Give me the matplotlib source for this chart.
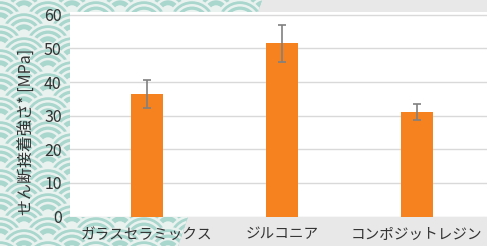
import matplotlib
matplotlib.use("Agg")
import matplotlib.pyplot as plt
import matplotlib.transforms as mtransforms
from matplotlib.patches import Circle, Polygon

plt.rcParams['font.family'] = ['Noto Sans CJK JP', 'DejaVu Sans']

categories = ["ガラスセラミックス", "ジルコニア", "コンポジットレジン"]
values = [36.5, 51.5, 31.2]
errors = [4.25, 5.4, 2.4]
yticks = [0, 10, 20, 30, 40, 50, 60]
ylabel = "せん断接着強さ* [MPa]"

W, H = 487, 246
fig = plt.figure(figsize=(W / 100, H / 100), dpi=100)

# background with seigaiha wave pattern
bg = fig.add_axes([0, 0, 1, 1], zorder=0)
bg.set_xlim(0, W)
bg.set_ylim(H, 0)
bg.axis("off")
bg.add_patch(plt.Rectangle((0, 0), W, H, color="#e8e8e8", zorder=0))
clip = Polygon([(0, 0), (262, 0), (178, H), (0, H)], closed=True,
               facecolor="none", edgecolor="none", transform=bg.transData)
bg.add_patch(clip)
teal = "#a9d6cd"
line = "#eaf2ef"
R = 24
lw = 1.8
j = 0
y = -R
while y < H + R:
    off = R if j % 2 else 0
    x = -2 * R + off
    while x < W + 2 * R:
        parts = [Circle((x, y), R, facecolor=teal, edgecolor=line, lw=lw)]
        for f in (0.78, 0.54):
            parts.append(Circle((x, y), R * f, facecolor="none", edgecolor=line, lw=lw))
        parts.append(Circle((x, y), R * 0.28, facecolor=line, edgecolor="none"))
        for p in parts:
            bg.add_patch(p)
            p.set_clip_path(clip)
        x += 2 * R
    y += R / 2
    j += 1

# main axes
left, right, top, bottom = 70, 487, 12, 216.5
ax = fig.add_axes([left / W, 1 - bottom / H, (right - left) / W, (bottom - top) / H], zorder=2)
ax.set_facecolor("white")
xs = range(len(categories))
ax.bar(xs, values, width=0.237, color="#f5821f", zorder=3)
ax.errorbar(xs, values, yerr=errors, fmt="none", ecolor="#808080", elinewidth=1.2,
            capsize=3, capthick=1.2, zorder=4)
ax.set_xlim(-0.57, 2.52)
ax.set_ylim(0, 60.85)
ax.set_yticks(yticks)
ax.set_xticks(list(xs))
ax.set_xticklabels(categories, fontsize=10.5, color="#333333")
shift = mtransforms.ScaledTranslation(4 / 100, 0, fig.dpi_scale_trans)
for lab in ax.get_xticklabels():
    lab.set_transform(lab.get_transform() + shift)
ax.tick_params(axis="y", labelsize=11.5, colors="#333333", length=0, pad=6)
ax.tick_params(axis="x", length=0, pad=8)
ax.grid(axis="y", color="#d9d9d9", lw=1)
ax.set_axisbelow(True)
for s in ax.spines.values():
    s.set_visible(False)
ax.set_ylabel(ylabel, fontsize=11.5, color="#333333")
ax.yaxis.set_label_coords(-0.083, 0.415)

fig.savefig("out.png", dpi=100)
